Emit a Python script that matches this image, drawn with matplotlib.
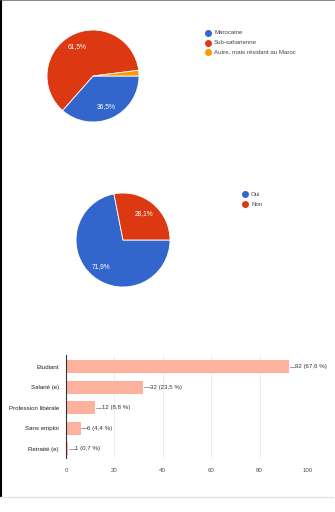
import matplotlib
matplotlib.use("Agg")
import matplotlib.pyplot as plt
from matplotlib.lines import Line2D

plt.rcParams["font.family"] = ["Liberation Sans", "DejaVu Sans"]

# ---- data ----
nat_labels = ["Marocaine", "Sub-saharienne", "Autre, mais résidant au Maroc"]
nat_values = [36.5, 61.5, 2.0]
nat_colors = ["#3366cc", "#dc3912", "#ff9900"]

yn_labels = ["Oui", "Non"]
yn_values = [71.9, 28.1]
yn_colors = ["#3366cc", "#dc3912"]

occ_labels = ["Etudiant", "Salarié (e)", "Profession libérale", "Sans emploi", "Retraité (e)"]
occ_values = [92, 32, 12, 6, 1]
occ_pcts = ["67,6 %", "23,5 %", "8,8 %", "4,4 %", "0,7 %"]
x_ticks = [0, 20, 40, 60, 80, 100]

W, H = 335, 512
fig = plt.figure(figsize=(W / 100, H / 100), dpi=100)
fig.patch.set_facecolor("white")


def px_axes(x0, y0, x1, y1):
    return fig.add_axes([x0 / W, 1 - y1 / H, (x1 - x0) / W, (y1 - y0) / H])


FS = 4.4


def draw_pie(box, values, colors, pct_fmt_min=5):
    ax = px_axes(*box)
    ax.pie(
        values, colors=colors, startangle=0, counterclock=False,
        autopct=lambda p: (f"{p:.1f}%".replace(".", ",") if p >= pct_fmt_min else ""),
        pctdistance=0.72, radius=1.0,
        wedgeprops=dict(edgecolor="white", linewidth=0.6),
        textprops=dict(color="white", fontsize=4.8),
    )
    ax.set_xlim(-1, 1)
    ax.set_ylim(-1, 1)
    ax.set_aspect("equal")
    ax.axis("off")
    return ax


def draw_legend(x, y0, dy, labels, colors):
    for i, (lab, col) in enumerate(zip(labels, colors)):
        yy = y0 + i * dy
        fig.add_artist(Line2D([x / W], [1 - yy / H], marker="o", markersize=4.0,
                              color=col, linestyle="none"))
        fig.text((x + 6) / W, 1 - yy / H, lab, fontsize=FS, color="#444444",
                 va="center", ha="left")


# pie 1
draw_pie((47, 30, 139, 122), nat_values, nat_colors)
draw_legend(208, 33, 9.5, nat_labels, nat_colors)

# pie 2
draw_pie((76, 193, 170, 287), yn_values, yn_colors)
draw_legend(245, 194, 10, yn_labels, yn_colors)

# bar chart
ax = px_axes(66, 355, 308, 458)
ypos = list(range(len(occ_labels)))
ax.barh(ypos, occ_values, height=0.63, color="#fcb29c", zorder=2)
ax.set_xlim(0, 100)
ax.set_ylim(4.45, -0.57)
ax.set_yticks(ypos)
ax.set_yticklabels(occ_labels, fontsize=FS, color="#222222")
ax.set_xticks(x_ticks)
ax.set_xticklabels([str(t) for t in x_ticks], fontsize=FS, color="#555555")
ax.tick_params(length=0, pad=5)
ax.tick_params(axis="x", pad=7)
for t in x_ticks[1:]:
    ax.axvline(t, color="#ebebeb", linewidth=0.6, zorder=0)
for s in ["top", "right", "bottom"]:
    ax.spines[s].set_visible(False)
ax.spines["left"].set_color("#333333")
ax.spines["left"].set_linewidth(0.8)
ax.spines["left"].set_zorder(3)
for y, v, p in zip(ypos, occ_values, occ_pcts):
    ax.plot([v + 0.4, v + 2.6], [y, y], color="#777777", linewidth=0.5, zorder=3)
    ax.text(v + 2.8, y, f"{v} ({p})", fontsize=FS, color="#333333",
            va="center", ha="left")

# frame lines
fig.add_artist(Line2D([1 / W, 1 / W], [1, 1 - 497 / H], color="black", linewidth=1.5))
fig.add_artist(Line2D([0, 1], [1 - 0.3 / H, 1 - 0.3 / H], color="#555555", linewidth=0.5))
fig.add_artist(Line2D([0, 333 / W], [1 - 497 / H, 1 - 497 / H], color="#e3e3e3", linewidth=1.0))

fig.savefig("out.png", dpi=100, facecolor="white")
